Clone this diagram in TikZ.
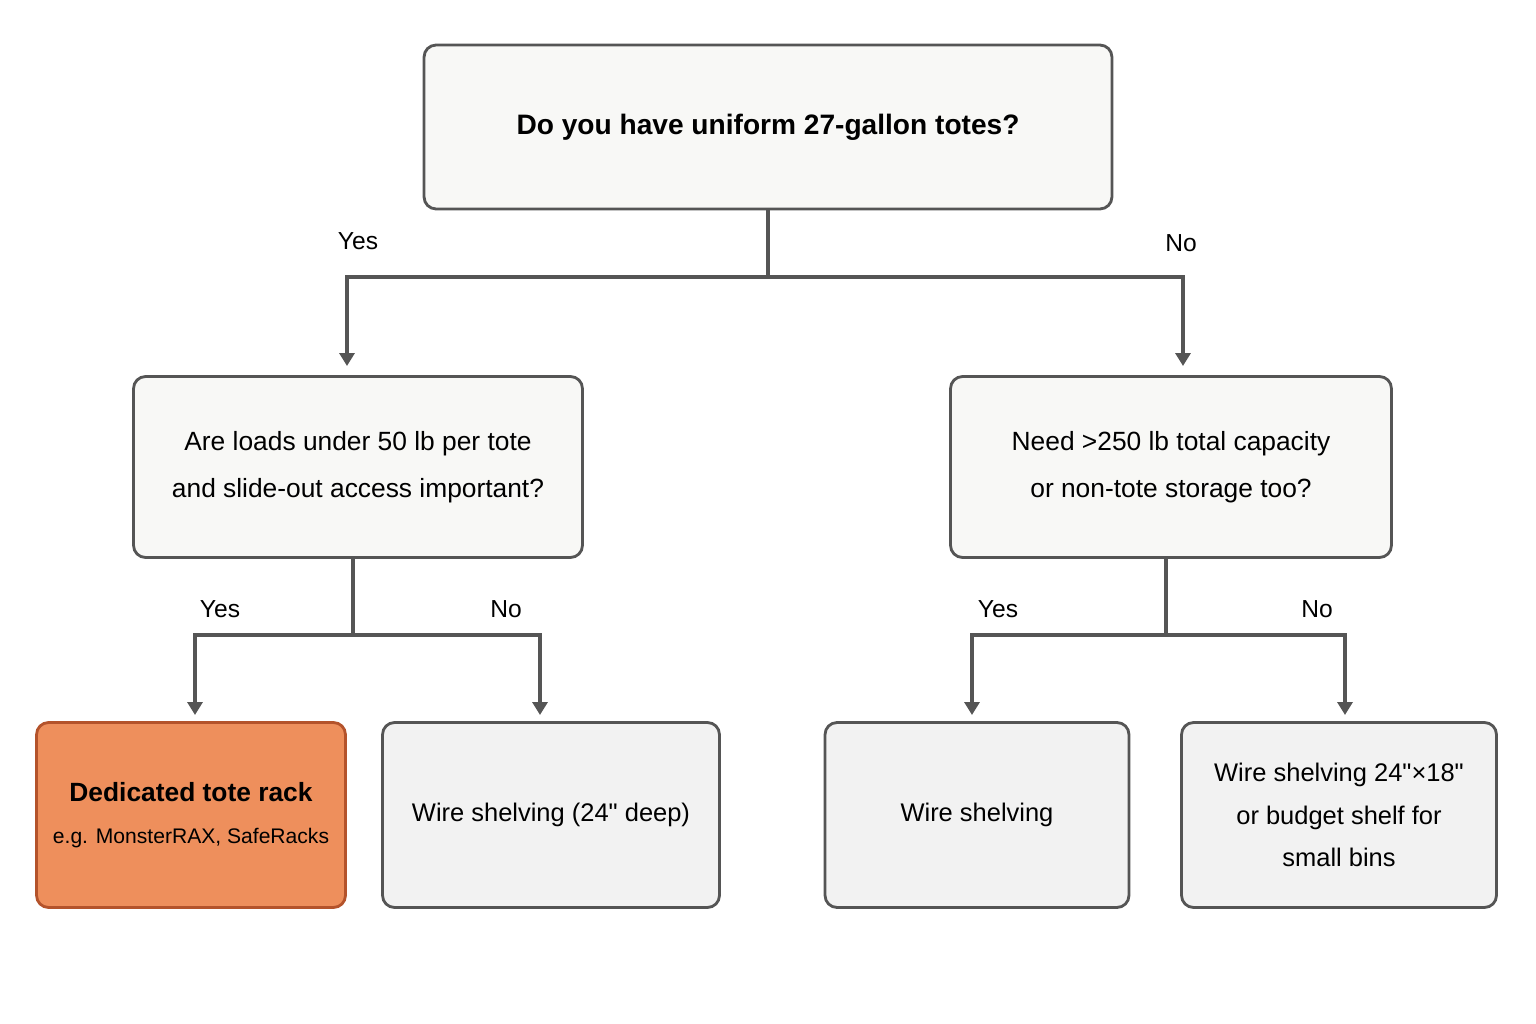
\documentclass[tikz,border=0pt]{standalone}
\usepackage{fontspec}
\setmainfont{Liberation Sans}
\usetikzlibrary{arrows.meta}
\definecolor{edgegray}{HTML}{555555}
\definecolor{qfill}{HTML}{F8F8F6}
\definecolor{leaffill}{HTML}{F2F2F2}
\definecolor{pickfill}{HTML}{EE8F5C}
\definecolor{pickedge}{HTML}{B4532B}
\begin{document}
\begin{tikzpicture}[
  x=0.02cm,
  y=-0.02cm,
  box/.style={draw=edgegray, line width=1.6pt, rounded corners=0.24cm,
    align=center, inner sep=0pt},
  question/.style={box, fill=qfill, font=\fontsize{15}{27}\selectfont},
  leaf/.style={box, fill=leaffill, font=\fontsize{14.5}{24}\selectfont},
  link/.style={draw=edgegray, line width=2pt},
  arrow/.style={link, -{Triangle[length=0.26cm,width=0.3cm]}},
  answer/.style={font=\fontsize{14}{16}\selectfont}
]
\useasboundingbox[fill=white] (0,0) rectangle (1536,1024);

% Questions
\node[question, minimum width=13.76cm, minimum height=3.28cm] (start) at (768,127)
  {\fontsize{16}{20}\selectfont\bfseries Do you have uniform 27-gallon totes?};
\node[question, minimum width=8.98cm, minimum height=3.62cm] (loads) at (358,467)
  {Are loads under 50 lb per tote\\and slide-out access important?};
\node[question, minimum width=8.82cm, minimum height=3.62cm] (capacity) at (1171,467)
  {Need >250 lb total capacity\\or non-tote storage too?};

% Outcomes
\node[leaf, fill=pickfill, draw=pickedge, minimum width=6.18cm, minimum height=3.7cm] (rack) at (191,815)
  {{\fontsize{15}{24}\selectfont\bfseries Dedicated tote rack}\\{\fontsize{12}{16}\selectfont e.g. MonsterRAX, SafeRacks}};
\node[leaf, minimum width=6.74cm, minimum height=3.7cm] (wire24) at (551,815)
  {Wire shelving (24\textquotedbl\ deep)};
\node[leaf, minimum width=6.08cm, minimum height=3.7cm] (wire) at (977,815)
  {Wire shelving};
\node[leaf, minimum width=6.3cm, minimum height=3.7cm] (budget) at (1339,815)
  {Wire shelving 24\textquotedbl×18\textquotedbl\\or budget shelf for\\small bins};

% Connectors
\coordinate (j0) at (768,277);
\coordinate (j1) at (353,635);
\coordinate (j2) at (1166,635);
\draw[link] (start.south) -- (j0);
\draw[arrow] (j0) -- (347,277) -- (347,366);
\draw[arrow] (j0) -- (1183,277) -- (1183,366);
\draw[link] (loads.south -| j1) -- (j1);
\draw[arrow] (j1) -- (195,635) -- (195,715);
\draw[arrow] (j1) -- (540,635) -- (540,715);
\draw[link] (capacity.south -| j2) -- (j2);
\draw[arrow] (j2) -- (972,635) -- (972,715);
\draw[arrow] (j2) -- (1345,635) -- (1345,715);

% Answers
\node[answer] (a1) at (358,241) {Yes};
\node[answer] (a2) at (1181,243) {No};
\node[answer] (a3) at (220,609) {Yes};
\node[answer] (a4) at (506,609) {No};
\node[answer] (a5) at (998,609) {Yes};
\node[answer] (a6) at (1317,609) {No};
\end{tikzpicture}
\end{document}
